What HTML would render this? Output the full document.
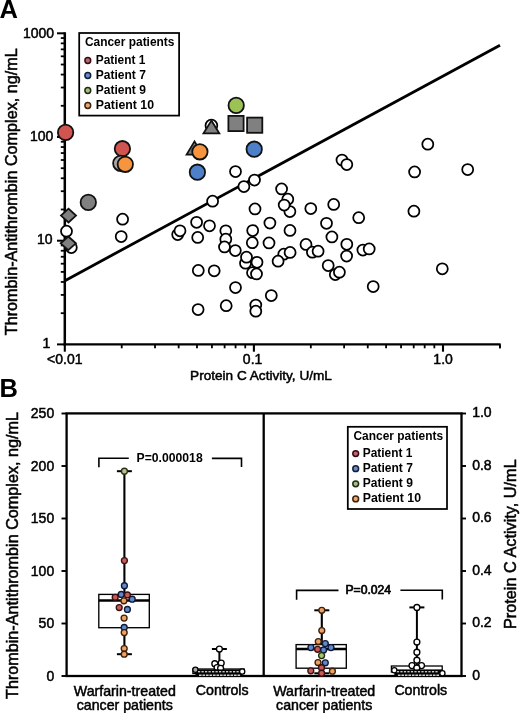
<!DOCTYPE html><html><head><meta charset="utf-8"><style>html,body{margin:0;padding:0;background:#fff;}svg{display:block;will-change:transform;}text{font-family:"Liberation Sans",sans-serif;fill:#000;stroke:#000;stroke-width:0.5px;}text[font-weight=bold]{stroke-width:0;}text.lg{stroke-width:0.6px;}</style></head><body>
<svg width="520" height="713" viewBox="0 0 520 713">
<rect width="520" height="713" fill="#fff"/>
<text x="-0.6" y="17.5" font-size="25.5" font-weight="bold">A</text>
<text x="-0.5" y="396.7" font-size="25.5" font-weight="bold">B</text>
<g stroke="#000" stroke-linecap="butt" fill="none">
<line x1="64.8" y1="32.2" x2="64.8" y2="345.59999999999997" stroke-width="2.5"/>
<line x1="63.599999999999994" y1="344.4" x2="500.6" y2="344.4" stroke-width="2.4"/>
<line x1="57" y1="344.40" x2="64.8" y2="344.40" stroke-width="2"/>
<line x1="57" y1="240.70" x2="64.8" y2="240.70" stroke-width="2"/>
<line x1="57" y1="137.00" x2="64.8" y2="137.00" stroke-width="2"/>
<line x1="57" y1="33.30" x2="64.8" y2="33.30" stroke-width="2"/>
<line x1="60.8" y1="313.18" x2="64.8" y2="313.18" stroke-width="1.8"/>
<line x1="60.8" y1="294.92" x2="64.8" y2="294.92" stroke-width="1.8"/>
<line x1="60.8" y1="281.97" x2="64.8" y2="281.97" stroke-width="1.8"/>
<line x1="60.8" y1="271.92" x2="64.8" y2="271.92" stroke-width="1.8"/>
<line x1="60.8" y1="263.71" x2="64.8" y2="263.71" stroke-width="1.8"/>
<line x1="60.8" y1="256.76" x2="64.8" y2="256.76" stroke-width="1.8"/>
<line x1="60.8" y1="250.75" x2="64.8" y2="250.75" stroke-width="1.8"/>
<line x1="60.8" y1="245.45" x2="64.8" y2="245.45" stroke-width="1.8"/>
<line x1="60.8" y1="209.48" x2="64.8" y2="209.48" stroke-width="1.8"/>
<line x1="60.8" y1="191.22" x2="64.8" y2="191.22" stroke-width="1.8"/>
<line x1="60.8" y1="178.27" x2="64.8" y2="178.27" stroke-width="1.8"/>
<line x1="60.8" y1="168.22" x2="64.8" y2="168.22" stroke-width="1.8"/>
<line x1="60.8" y1="160.01" x2="64.8" y2="160.01" stroke-width="1.8"/>
<line x1="60.8" y1="153.06" x2="64.8" y2="153.06" stroke-width="1.8"/>
<line x1="60.8" y1="147.05" x2="64.8" y2="147.05" stroke-width="1.8"/>
<line x1="60.8" y1="141.75" x2="64.8" y2="141.75" stroke-width="1.8"/>
<line x1="60.8" y1="105.78" x2="64.8" y2="105.78" stroke-width="1.8"/>
<line x1="60.8" y1="87.52" x2="64.8" y2="87.52" stroke-width="1.8"/>
<line x1="60.8" y1="74.57" x2="64.8" y2="74.57" stroke-width="1.8"/>
<line x1="60.8" y1="64.52" x2="64.8" y2="64.52" stroke-width="1.8"/>
<line x1="60.8" y1="56.31" x2="64.8" y2="56.31" stroke-width="1.8"/>
<line x1="60.8" y1="49.36" x2="64.8" y2="49.36" stroke-width="1.8"/>
<line x1="60.8" y1="43.35" x2="64.8" y2="43.35" stroke-width="1.8"/>
<line x1="60.8" y1="38.05" x2="64.8" y2="38.05" stroke-width="1.8"/>
<line x1="64.80" y1="344.4" x2="64.80" y2="351.7" stroke-width="2.1"/>
<line x1="253.90" y1="344.4" x2="253.90" y2="351.7" stroke-width="2.1"/>
<line x1="443.00" y1="344.4" x2="443.00" y2="351.7" stroke-width="2.1"/>
<line x1="121.72" y1="344.4" x2="121.72" y2="348.3" stroke-width="1.8"/>
<line x1="155.02" y1="344.4" x2="155.02" y2="348.3" stroke-width="1.8"/>
<line x1="178.65" y1="344.4" x2="178.65" y2="348.3" stroke-width="1.8"/>
<line x1="196.98" y1="344.4" x2="196.98" y2="348.3" stroke-width="1.8"/>
<line x1="211.95" y1="344.4" x2="211.95" y2="348.3" stroke-width="1.8"/>
<line x1="224.61" y1="344.4" x2="224.61" y2="348.3" stroke-width="1.8"/>
<line x1="235.57" y1="344.4" x2="235.57" y2="348.3" stroke-width="1.8"/>
<line x1="245.25" y1="344.4" x2="245.25" y2="348.3" stroke-width="1.8"/>
<line x1="310.82" y1="344.4" x2="310.82" y2="348.3" stroke-width="1.8"/>
<line x1="344.12" y1="344.4" x2="344.12" y2="348.3" stroke-width="1.8"/>
<line x1="367.75" y1="344.4" x2="367.75" y2="348.3" stroke-width="1.8"/>
<line x1="386.08" y1="344.4" x2="386.08" y2="348.3" stroke-width="1.8"/>
<line x1="401.05" y1="344.4" x2="401.05" y2="348.3" stroke-width="1.8"/>
<line x1="413.71" y1="344.4" x2="413.71" y2="348.3" stroke-width="1.8"/>
<line x1="424.67" y1="344.4" x2="424.67" y2="348.3" stroke-width="1.8"/>
<line x1="434.35" y1="344.4" x2="434.35" y2="348.3" stroke-width="1.8"/>
<line x1="499.92" y1="344.4" x2="499.92" y2="348.3" stroke-width="1.8"/>
<line x1="499.92" y1="344.4" x2="499.92" y2="348.3" stroke-width="1.8"/>
<line x1="65.4" y1="280.4" x2="500.0" y2="45.2" stroke-width="2.8"/>
</g>
<text x="42.6" y="347.8" font-size="14">1</text>
<text x="37.0" y="244.4" font-size="14">10</text>
<text x="30.0" y="141.3" font-size="14">100</text>
<text x="22.9" y="38.3" font-size="14">1000</text>
<text x="64.8" y="364.4" font-size="14" text-anchor="middle">&lt;0.01</text>
<text x="252.6" y="364.4" font-size="14" text-anchor="middle">0.1</text>
<text x="443.1" y="364.4" font-size="14" text-anchor="middle">1.0</text>
<text x="261" y="379.6" font-size="13.6" text-anchor="middle">Protein C Activity, U/mL</text>
<text transform="translate(17.4,191.7) rotate(-90)" x="0" y="0" font-size="16.2" text-anchor="middle">Thrombin-Antithrombin Complex, ng/mL</text>
<g stroke="#000" stroke-width="1.75">
<circle cx="211.4" cy="125.6" r="5.9" fill="#fff"/>
<circle cx="66.5" cy="231.2" r="5.5" fill="#fff"/>
<circle cx="71.3" cy="247.6" r="5.5" fill="#fff"/>
<circle cx="122.6" cy="219.2" r="5.5" fill="#fff"/>
<circle cx="121.2" cy="236.5" r="5.5" fill="#fff"/>
<circle cx="177.7" cy="234.6" r="5.5" fill="#fff"/>
<circle cx="180" cy="230.8" r="5.5" fill="#fff"/>
<circle cx="196.6" cy="222.3" r="5.5" fill="#fff"/>
<circle cx="197.7" cy="237.4" r="5.5" fill="#fff"/>
<circle cx="209.5" cy="225.8" r="5.5" fill="#fff"/>
<circle cx="212.6" cy="201.2" r="5.5" fill="#fff"/>
<circle cx="198.3" cy="270.4" r="5.5" fill="#fff"/>
<circle cx="214.2" cy="270.8" r="5.5" fill="#fff"/>
<circle cx="198.1" cy="309.6" r="5.5" fill="#fff"/>
<circle cx="226.2" cy="305.7" r="5.5" fill="#fff"/>
<circle cx="225.8" cy="230.8" r="5.5" fill="#fff"/>
<circle cx="225.8" cy="239.2" r="5.5" fill="#fff"/>
<circle cx="224.5" cy="246.9" r="5.5" fill="#fff"/>
<circle cx="235.3" cy="250.5" r="5.5" fill="#fff"/>
<circle cx="235.5" cy="171.5" r="5.5" fill="#fff"/>
<circle cx="243.9" cy="186.6" r="5.5" fill="#fff"/>
<circle cx="254.5" cy="180" r="5.5" fill="#fff"/>
<circle cx="255" cy="208.9" r="5.5" fill="#fff"/>
<circle cx="252.7" cy="230.5" r="5.5" fill="#fff"/>
<circle cx="252.3" cy="242.7" r="5.5" fill="#fff"/>
<circle cx="245.5" cy="263.2" r="5.5" fill="#fff"/>
<circle cx="246.5" cy="257.2" r="5.5" fill="#fff"/>
<circle cx="257" cy="262.3" r="5.5" fill="#fff"/>
<circle cx="252.5" cy="272.7" r="5.5" fill="#fff"/>
<circle cx="256.5" cy="273.9" r="5.5" fill="#fff"/>
<circle cx="235.5" cy="287.5" r="5.5" fill="#fff"/>
<circle cx="255.8" cy="305" r="5.5" fill="#fff"/>
<circle cx="255.8" cy="311.2" r="5.5" fill="#fff"/>
<circle cx="269.9" cy="223.1" r="5.5" fill="#fff"/>
<circle cx="269" cy="242.9" r="5.5" fill="#fff"/>
<circle cx="271.3" cy="295.5" r="5.5" fill="#fff"/>
<circle cx="281.6" cy="188.9" r="5.5" fill="#fff"/>
<circle cx="287.8" cy="199.2" r="5.5" fill="#fff"/>
<circle cx="289.9" cy="211.5" r="5.5" fill="#fff"/>
<circle cx="284.2" cy="205.1" r="5.5" fill="#fff"/>
<circle cx="290" cy="230.4" r="5.5" fill="#fff"/>
<circle cx="283.8" cy="254.2" r="5.5" fill="#fff"/>
<circle cx="290.1" cy="252.4" r="5.5" fill="#fff"/>
<circle cx="278.1" cy="261.2" r="5.5" fill="#fff"/>
<circle cx="306" cy="244.4" r="5.5" fill="#fff"/>
<circle cx="310.8" cy="208.5" r="5.5" fill="#fff"/>
<circle cx="312.4" cy="252.2" r="5.5" fill="#fff"/>
<circle cx="318.1" cy="251.2" r="5.5" fill="#fff"/>
<circle cx="326.5" cy="223.3" r="5.5" fill="#fff"/>
<circle cx="331.9" cy="236.9" r="5.5" fill="#fff"/>
<circle cx="333.7" cy="204.4" r="5.5" fill="#fff"/>
<circle cx="328.2" cy="265.5" r="5.5" fill="#fff"/>
<circle cx="335.3" cy="274.5" r="5.5" fill="#fff"/>
<circle cx="339.4" cy="272.2" r="5.5" fill="#fff"/>
<circle cx="342" cy="160" r="5.5" fill="#fff"/>
<circle cx="346.8" cy="164.6" r="5.5" fill="#fff"/>
<circle cx="346.8" cy="244.3" r="5.5" fill="#fff"/>
<circle cx="346.6" cy="256.1" r="5.5" fill="#fff"/>
<circle cx="358.7" cy="217.7" r="5.5" fill="#fff"/>
<circle cx="362.9" cy="250.1" r="5.5" fill="#fff"/>
<circle cx="369.2" cy="248.9" r="5.5" fill="#fff"/>
<circle cx="373.2" cy="286.5" r="5.5" fill="#fff"/>
<circle cx="414.6" cy="171.9" r="5.5" fill="#fff"/>
<circle cx="427.8" cy="144.2" r="5.5" fill="#fff"/>
<circle cx="413.9" cy="211.2" r="5.5" fill="#fff"/>
<circle cx="442.3" cy="268.8" r="5.5" fill="#fff"/>
<circle cx="467.7" cy="169.6" r="5.5" fill="#fff"/>
</g>
<g stroke="#111" stroke-width="1.8">
<polygon points="211.4,120.6 219.3,133.3 203.5,133.3" fill="#808080" stroke-linejoin="miter"/>
<polygon points="194.5,141.4 202.4,154.6 186.6,154.6" fill="#808080" stroke-linejoin="miter"/>
<circle cx="65.6" cy="132.4" r="7.7" fill="#d05551"/>
<circle cx="122.4" cy="148.7" r="7.7" fill="#d05551"/>
<circle cx="120.8" cy="163.3" r="7.7" fill="#a8a8a8"/>
<circle cx="125.3" cy="164.3" r="7.7" fill="#f7953f"/>
<circle cx="199.9" cy="151.8" r="7.7" fill="#f7953f"/>
<circle cx="88.3" cy="202.4" r="7.7" fill="#808080"/>
<circle cx="236.2" cy="105.4" r="7.7" fill="#9cc256"/>
<circle cx="197.4" cy="172.2" r="7.7" fill="#4e80ca"/>
<circle cx="254.2" cy="149.2" r="7.7" fill="#4e80ca"/>
<rect x="228.4" y="115.9" width="15.2" height="15.2" fill="#808080"/>
<rect x="247.1" y="117.60000000000001" width="15.2" height="15.2" fill="#808080"/>
<polygon points="68.5,208.7 76.0,215.6 68.5,222.5 61.0,215.6" fill="#808080"/>
</g>
<g stroke="#111" stroke-width="1.8">
<polygon points="68.3,236.5 75.89999999999999,243.3 68.3,250.10000000000002 60.699999999999996,243.3" fill="#808080"/>
</g>
<rect x="79.2" y="33.0" width="99.9" height="82.6" fill="#fff" stroke="#000" stroke-width="1.75"/>
<text x="84.9" y="46.2" font-size="12.2" font-weight="bold" textLength="89.6" lengthAdjust="spacingAndGlyphs">Cancer patients</text>
<circle cx="87.8" cy="60.50" r="2.9" fill="#b36a70" stroke="#3a0a12" stroke-width="1.5"/>
<text x="95.80000000000001" y="63.80" font-size="12.8" font-weight="bold" textLength="49.6" lengthAdjust="spacingAndGlyphs">Patient 1</text>
<circle cx="87.8" cy="75.50" r="2.9" fill="#6a8cc0" stroke="#0e1e3c" stroke-width="1.5"/>
<text x="95.80000000000001" y="78.80" font-size="12.8" font-weight="bold" textLength="50.1" lengthAdjust="spacingAndGlyphs">Patient 7</text>
<circle cx="87.8" cy="90.50" r="2.9" fill="#a8be86" stroke="#1e2e10" stroke-width="1.5"/>
<text x="95.80000000000001" y="93.80" font-size="12.8" font-weight="bold" textLength="50.1" lengthAdjust="spacingAndGlyphs">Patient 9</text>
<circle cx="87.8" cy="105.50" r="2.9" fill="#e8a676" stroke="#3e220c" stroke-width="1.5"/>
<text x="95.80000000000001" y="108.80" font-size="12.8" font-weight="bold" textLength="58.2" lengthAdjust="spacingAndGlyphs">Patient 10</text>
<g stroke="#000" fill="none">
<rect x="66.6" y="413.4" width="394.9" height="262.6" stroke-width="2.3"/>
<line x1="263.7" y1="413.4" x2="263.7" y2="676.0" stroke-width="2.3"/>
<line x1="61.5" y1="676.00" x2="66.6" y2="676.00" stroke-width="1.9"/>
<line x1="461.5" y1="676.00" x2="466" y2="676.00" stroke-width="1.9"/>
<line x1="61.5" y1="623.50" x2="66.6" y2="623.50" stroke-width="1.9"/>
<line x1="461.5" y1="623.50" x2="466" y2="623.50" stroke-width="1.9"/>
<line x1="61.5" y1="571.00" x2="66.6" y2="571.00" stroke-width="1.9"/>
<line x1="461.5" y1="571.00" x2="466" y2="571.00" stroke-width="1.9"/>
<line x1="61.5" y1="518.50" x2="66.6" y2="518.50" stroke-width="1.9"/>
<line x1="461.5" y1="518.50" x2="466" y2="518.50" stroke-width="1.9"/>
<line x1="61.5" y1="466.00" x2="66.6" y2="466.00" stroke-width="1.9"/>
<line x1="461.5" y1="466.00" x2="466" y2="466.00" stroke-width="1.9"/>
<line x1="61.5" y1="413.50" x2="66.6" y2="413.50" stroke-width="1.9"/>
<line x1="461.5" y1="413.50" x2="466" y2="413.50" stroke-width="1.9"/>
</g>
<text x="54.2" y="680.90" font-size="14" text-anchor="end">0</text>
<text x="472.2" y="679.90" font-size="14">0</text>
<text x="54.2" y="628.40" font-size="14" text-anchor="end">50</text>
<text x="472.2" y="627.40" font-size="14">0.2</text>
<text x="54.2" y="575.90" font-size="14" text-anchor="end">100</text>
<text x="472.2" y="574.90" font-size="14">0.4</text>
<text x="54.2" y="523.40" font-size="14" text-anchor="end">150</text>
<text x="472.2" y="522.40" font-size="14">0.6</text>
<text x="54.2" y="470.90" font-size="14" text-anchor="end">200</text>
<text x="472.2" y="469.90" font-size="14">0.8</text>
<text x="54.2" y="418.40" font-size="14" text-anchor="end">250</text>
<text x="472.2" y="417.40" font-size="14">1.0</text>
<text transform="translate(17.5,555.5) rotate(-90)" font-size="16.2" text-anchor="middle">Thrombin-Antithrombin Complex, ng/mL</text>
<text transform="translate(516.3,544.2) rotate(-90)" font-size="16.3" text-anchor="middle">Protein C Activity, U/mL</text>
<text x="124.8" y="696.3" font-size="14.2" text-anchor="middle">Warfarin-treated</text>
<text x="124.8" y="709.6" font-size="14.2" text-anchor="middle">cancer patients</text>
<text x="324.2" y="696.3" font-size="14.2" text-anchor="middle">Warfarin-treated</text>
<text x="324.2" y="709.6" font-size="14.2" text-anchor="middle">cancer patients</text>
<text x="222.2" y="695" font-size="14.2" text-anchor="middle">Controls</text>
<text x="420.8" y="695" font-size="14.2" text-anchor="middle">Controls</text>
<g stroke="#000" stroke-width="1.6" fill="none">
<polyline points="98.9,467.3 98.9,458.2 128.8,458.2"/>
<polyline points="211.9,458.4 241.5,458.4 241.5,467"/>
<polyline points="296.6,599.7 296.6,590.4 338.5,590.4"/>
<polyline points="400.4,590.2 442.3,590.2 442.3,599.6"/>
</g>
<text x="136.6" y="461.8" font-size="12.2" font-weight="bold">P=0.000018</text>
<text x="345.4" y="593.9" font-size="12.2" style="stroke-width:0.7px">P=0.024</text>
<g stroke="#000" fill="none">
<line x1="124.4" y1="471.2" x2="124.4" y2="594.4" stroke-width="2.1"/>
<line x1="124.4" y1="627.7" x2="124.4" y2="654.2" stroke-width="2.1"/>
<line x1="116.9" y1="471.2" x2="131.9" y2="471.2" stroke-width="2"/>
<line x1="116.9" y1="654.2" x2="131.9" y2="654.2" stroke-width="2"/>
<rect x="98.8" y="594.4" width="50.500000000000014" height="33.30000000000007" fill="#fff" stroke-width="1.35"/>
<line x1="98.8" y1="600.6" x2="149.3" y2="600.6" stroke-width="2.5"/>
</g>
<g stroke-width="1.35">
<circle cx="124.4" cy="471.2" r="2.95" fill="#b8c48c" stroke="#2a3018"/>
<circle cx="124.4" cy="560.6" r="2.95" fill="#c45c58" stroke="#3a1012"/>
<circle cx="124.4" cy="585.7" r="2.95" fill="#6288c8" stroke="#0e1a38"/>
<circle cx="121.2" cy="594.4" r="2.95" fill="#6288c8" stroke="#0e1a38"/>
<circle cx="127.4" cy="594.9" r="2.95" fill="#c45c58" stroke="#3a1012"/>
<circle cx="115.2" cy="597.3" r="2.95" fill="#c45c58" stroke="#3a1012"/>
<circle cx="132.2" cy="599.2" r="2.95" fill="#6288c8" stroke="#0e1a38"/>
<circle cx="123.9" cy="600.8" r="2.95" fill="#efa062" stroke="#3c200a"/>
<circle cx="119.2" cy="607.5" r="2.95" fill="#c45c58" stroke="#3a1012"/>
<circle cx="127.4" cy="609.4" r="2.95" fill="#6288c8" stroke="#0e1a38"/>
<circle cx="124.1" cy="618.1" r="2.95" fill="#efa062" stroke="#3c200a"/>
<circle cx="124.2" cy="627.4" r="2.95" fill="#6288c8" stroke="#0e1a38"/>
<circle cx="124.2" cy="632.6" r="2.95" fill="#efa062" stroke="#3c200a"/>
<circle cx="124.2" cy="648.5" r="2.95" fill="#efa062" stroke="#3c200a"/>
<circle cx="124.2" cy="654.2" r="2.95" fill="#efa062" stroke="#3c200a"/>
</g>
<g stroke="#000" fill="none">
<line x1="219.4" y1="649" x2="219.4" y2="669" stroke-width="2"/>
<line x1="211.9" y1="649" x2="226.9" y2="649" stroke-width="2"/>
<rect x="192.9" y="669" width="51.29999999999998" height="4.5" fill="#fff" stroke-width="1.3"/>
</g>
<g stroke-width="1.35">
<circle cx="219.4" cy="649" r="2.95" fill="#fff" stroke="#000"/>
<circle cx="214.8" cy="663.7" r="2.95" fill="#fff" stroke="#000"/>
<circle cx="221.2" cy="663.1" r="2.95" fill="#fff" stroke="#000"/>
<circle cx="217.1" cy="667.5" r="2.95" fill="#fff" stroke="#000"/>
<circle cx="220.6" cy="668.3" r="2.95" fill="#fff" stroke="#000"/>
</g>
<rect x="195.4" y="669.4000000000001" width="46.79999999999998" height="6.599999999999954" fill="#000"/>
<circle cx="195.4" cy="669.8" r="2.6" fill="#aaa" stroke="#000" stroke-width="1.3"/>
<circle cx="242.2" cy="671.5" r="2.6" fill="#fff" stroke="#000" stroke-width="1.3"/>
<rect x="198.00" y="671.0" width="2.2" height="1.4" fill="#c8c8c8"/>
<rect x="199.00" y="674.6" width="2.6" height="1.2" fill="#fff"/>
<rect x="201.50" y="671.0" width="2.2" height="1.4" fill="#c8c8c8"/>
<rect x="202.50" y="674.6" width="2.6" height="1.2" fill="#fff"/>
<rect x="205.00" y="671.0" width="2.2" height="1.4" fill="#c8c8c8"/>
<rect x="206.00" y="674.6" width="2.6" height="1.2" fill="#fff"/>
<rect x="208.50" y="671.0" width="2.2" height="1.4" fill="#c8c8c8"/>
<rect x="209.50" y="674.6" width="2.6" height="1.2" fill="#fff"/>
<rect x="212.00" y="671.0" width="2.2" height="1.4" fill="#c8c8c8"/>
<rect x="213.00" y="674.6" width="2.6" height="1.2" fill="#fff"/>
<rect x="215.50" y="671.0" width="2.2" height="1.4" fill="#c8c8c8"/>
<rect x="216.50" y="674.6" width="2.6" height="1.2" fill="#fff"/>
<rect x="219.00" y="671.0" width="2.2" height="1.4" fill="#c8c8c8"/>
<rect x="220.00" y="674.6" width="2.6" height="1.2" fill="#fff"/>
<rect x="222.50" y="671.0" width="2.2" height="1.4" fill="#c8c8c8"/>
<rect x="223.50" y="674.6" width="2.6" height="1.2" fill="#fff"/>
<rect x="226.00" y="671.0" width="2.2" height="1.4" fill="#c8c8c8"/>
<rect x="227.00" y="674.6" width="2.6" height="1.2" fill="#fff"/>
<rect x="229.50" y="671.0" width="2.2" height="1.4" fill="#c8c8c8"/>
<rect x="230.50" y="674.6" width="2.6" height="1.2" fill="#fff"/>
<rect x="233.00" y="671.0" width="2.2" height="1.4" fill="#c8c8c8"/>
<rect x="234.00" y="674.6" width="2.6" height="1.2" fill="#fff"/>
<rect x="236.50" y="671.0" width="2.2" height="1.4" fill="#c8c8c8"/>
<rect x="237.50" y="674.6" width="2.6" height="1.2" fill="#fff"/>
<g stroke="#000" fill="none">
<line x1="321.8" y1="610.3" x2="321.8" y2="644.6" stroke-width="2.1"/>
<line x1="321.8" y1="668.2" x2="321.8" y2="673.3" stroke-width="2.1"/>
<line x1="314.3" y1="610.3" x2="329.3" y2="610.3" stroke-width="2"/>
<line x1="314.3" y1="673.3" x2="329.3" y2="673.3" stroke-width="2"/>
<rect x="296.1" y="644.6" width="50.19999999999999" height="23.600000000000023" fill="#fff" stroke-width="1.35"/>
<line x1="296.1" y1="648.9" x2="346.3" y2="648.9" stroke-width="2.5"/>
</g>
<g stroke-width="1.35">
<circle cx="321.8" cy="610.3" r="2.95" fill="#efa062" stroke="#3c200a"/>
<circle cx="321.8" cy="630.5" r="2.95" fill="#efa062" stroke="#3c200a"/>
<circle cx="318.3" cy="641.5" r="2.95" fill="#efa062" stroke="#3c200a"/>
<circle cx="325.3" cy="643.6" r="2.95" fill="#6288c8" stroke="#0e1a38"/>
<circle cx="310.9" cy="647.6" r="2.95" fill="#6288c8" stroke="#0e1a38"/>
<circle cx="331" cy="647.6" r="2.95" fill="#6288c8" stroke="#0e1a38"/>
<circle cx="317.6" cy="649.3" r="2.95" fill="#c45c58" stroke="#3a1012"/>
<circle cx="323.6" cy="649.9" r="2.95" fill="#6288c8" stroke="#0e1a38"/>
<circle cx="321.6" cy="655.6" r="2.95" fill="#a2c46e" stroke="#1e2c10"/>
<circle cx="318" cy="662.5" r="2.95" fill="#efa062" stroke="#3c200a"/>
<circle cx="325.3" cy="662.8" r="2.95" fill="#6288c8" stroke="#0e1a38"/>
<circle cx="321.5" cy="667.7" r="2.95" fill="#c45c58" stroke="#3a1012"/>
<circle cx="310.8" cy="670.8" r="2.95" fill="#c45c58" stroke="#3a1012"/>
<circle cx="332.4" cy="671.2" r="2.95" fill="#efa062" stroke="#3c200a"/>
<circle cx="321.6" cy="673.2" r="2.95" fill="#c45c58" stroke="#3a1012"/>
</g>
<g stroke="#000" fill="none">
<line x1="416.9" y1="607.4" x2="416.9" y2="666" stroke-width="2"/>
<line x1="409.4" y1="607.4" x2="424.4" y2="607.4" stroke-width="2"/>
<rect x="391.4" y="666" width="50.80000000000001" height="6" fill="#fff" stroke-width="1.3"/>
</g>
<g stroke-width="1.35">
<circle cx="416.9" cy="607.4" r="2.95" fill="#fff" stroke="#000"/>
<circle cx="416.9" cy="642" r="2.95" fill="#fff" stroke="#000"/>
<circle cx="416.9" cy="652.2" r="2.95" fill="#fff" stroke="#000"/>
<circle cx="416.9" cy="660.2" r="2.95" fill="#fff" stroke="#000"/>
<circle cx="412" cy="665.6" r="2.95" fill="#fff" stroke="#000"/>
<circle cx="421.5" cy="665.6" r="2.95" fill="#fff" stroke="#000"/>
<circle cx="416.8" cy="667.9" r="2.95" fill="#fff" stroke="#000"/>
</g>
<rect x="394.3" y="669.4000000000001" width="48.099999999999966" height="6.599999999999954" fill="#000"/>
<circle cx="394.3" cy="670.2" r="2.6" fill="#fff" stroke="#000" stroke-width="1.3"/>
<circle cx="442.4" cy="673.3" r="2.6" fill="#fff" stroke="#000" stroke-width="1.3"/>
<rect x="396.90" y="671.0" width="2.2" height="1.4" fill="#c8c8c8"/>
<rect x="397.90" y="674.6" width="2.6" height="1.2" fill="#fff"/>
<rect x="400.40" y="671.0" width="2.2" height="1.4" fill="#c8c8c8"/>
<rect x="401.40" y="674.6" width="2.6" height="1.2" fill="#fff"/>
<rect x="403.90" y="671.0" width="2.2" height="1.4" fill="#c8c8c8"/>
<rect x="404.90" y="674.6" width="2.6" height="1.2" fill="#fff"/>
<rect x="407.40" y="671.0" width="2.2" height="1.4" fill="#c8c8c8"/>
<rect x="408.40" y="674.6" width="2.6" height="1.2" fill="#fff"/>
<rect x="410.90" y="671.0" width="2.2" height="1.4" fill="#c8c8c8"/>
<rect x="411.90" y="674.6" width="2.6" height="1.2" fill="#fff"/>
<rect x="414.40" y="671.0" width="2.2" height="1.4" fill="#c8c8c8"/>
<rect x="415.40" y="674.6" width="2.6" height="1.2" fill="#fff"/>
<rect x="417.90" y="671.0" width="2.2" height="1.4" fill="#c8c8c8"/>
<rect x="418.90" y="674.6" width="2.6" height="1.2" fill="#fff"/>
<rect x="421.40" y="671.0" width="2.2" height="1.4" fill="#c8c8c8"/>
<rect x="422.40" y="674.6" width="2.6" height="1.2" fill="#fff"/>
<rect x="424.90" y="671.0" width="2.2" height="1.4" fill="#c8c8c8"/>
<rect x="425.90" y="674.6" width="2.6" height="1.2" fill="#fff"/>
<rect x="428.40" y="671.0" width="2.2" height="1.4" fill="#c8c8c8"/>
<rect x="429.40" y="674.6" width="2.6" height="1.2" fill="#fff"/>
<rect x="431.90" y="671.0" width="2.2" height="1.4" fill="#c8c8c8"/>
<rect x="432.90" y="674.6" width="2.6" height="1.2" fill="#fff"/>
<rect x="435.40" y="671.0" width="2.2" height="1.4" fill="#c8c8c8"/>
<rect x="436.40" y="674.6" width="2.6" height="1.2" fill="#fff"/>
<rect x="347.8" y="426.8" width="99.2" height="82.2" fill="#fff" stroke="#000" stroke-width="1.75"/>
<text x="353.5" y="439.6" font-size="12.2" font-weight="bold" textLength="89.6" lengthAdjust="spacingAndGlyphs">Cancer patients</text>
<circle cx="355.7" cy="453.60" r="2.9" fill="#b36a70" stroke="#3a0a12" stroke-width="1.5"/>
<text x="362.8" y="456.90" font-size="12.8" font-weight="bold" textLength="49.6" lengthAdjust="spacingAndGlyphs">Patient 1</text>
<circle cx="355.7" cy="468.70" r="2.9" fill="#6a8cc0" stroke="#0e1e3c" stroke-width="1.5"/>
<text x="362.8" y="472.00" font-size="12.8" font-weight="bold" textLength="50.1" lengthAdjust="spacingAndGlyphs">Patient 7</text>
<circle cx="355.7" cy="483.80" r="2.9" fill="#a8be86" stroke="#1e2e10" stroke-width="1.5"/>
<text x="362.8" y="487.10" font-size="12.8" font-weight="bold" textLength="50.1" lengthAdjust="spacingAndGlyphs">Patient 9</text>
<circle cx="355.7" cy="498.90" r="2.9" fill="#e8a676" stroke="#3e220c" stroke-width="1.5"/>
<text x="362.8" y="502.20" font-size="12.8" font-weight="bold" textLength="58.2" lengthAdjust="spacingAndGlyphs">Patient 10</text>
</svg></body></html>
